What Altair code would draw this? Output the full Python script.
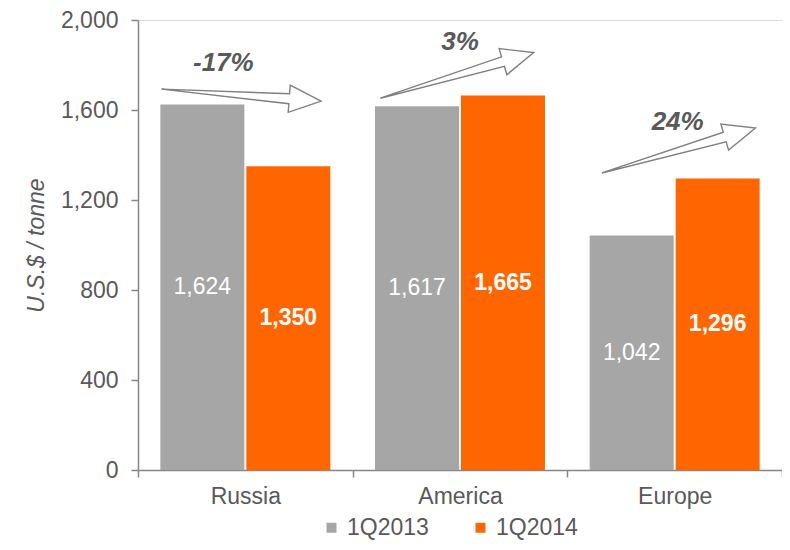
import altair as alt
import pandas as pd

# ---- data ----
regions = ["Russia", "America", "Europe"]
series = ["1Q2013", "1Q2014"]
values_2013 = [1624, 1617, 1042]
values_2014 = [1350, 1665, 1296]

# annotation: percentage change labels and arrows
pct_labels = ["-17%", "3%", "24%"]
pct_label_y = [1811, 1903, 1547]
arrow_y = [1666, 1754, 1420]
arrow_angle = [4.3, 343.4, 343.7]

GRAY = "#A6A6A6"
ORANGE = "#FF6600"
TEXT = "#595959"
AXIS = "#868686"
FONT = "Liberation Sans"

rows = []
for r, a, b in zip(regions, values_2013, values_2014):
    rows.append({"region": r, "series": series[0], "value": a})
    rows.append({"region": r, "series": series[1], "value": b})
df = pd.DataFrame(rows)

ann = pd.DataFrame({
    "region": regions,
    "label": pct_labels,
    "label_y": pct_label_y,
    "arrow_y": arrow_y,
    "angle": arrow_angle,
})

x_enc = alt.X(
    "region:N",
    sort=regions,
    title=None,
    scale=alt.Scale(paddingInner=0, paddingOuter=0),
    axis=alt.Axis(
        labelAngle=0, tickBand="extent", tickSize=7, labelPadding=8,
        labelFontSize=23, labelColor=TEXT, labelFont=FONT,
        domainColor=AXIS, tickColor=AXIS, domainWidth=1.5, tickWidth=1.5,
    ),
)
y_scale = alt.Scale(domain=[0, 2000], nice=False)

bars = alt.Chart(df).mark_bar().encode(
    x=x_enc,
    xOffset=alt.XOffset("series:N", sort=series,
                        scale=alt.Scale(paddingInner=0.023, paddingOuter=0.26)),
    y=alt.Y(
        "value:Q", scale=y_scale, title="U.S.$ / tonne",
        axis=alt.Axis(
            values=[0, 400, 800, 1200, 1600, 2000], format=",.0f", grid=False,
            tickSize=7, labelPadding=13, labelFontSize=23, labelColor=TEXT,
            labelFont=FONT, domainColor=AXIS, tickColor=AXIS,
            domainWidth=1.5, tickWidth=1.5,
            titleFont=FONT, titleFontSize=23, titleFontStyle="italic",
            titleFontWeight="normal", titleColor=TEXT, titlePadding=12,
        ),
    ),
    color=alt.Color(
        "series:N", sort=series,
        scale=alt.Scale(domain=series, range=[GRAY, ORANGE]),
        legend=alt.Legend(
            title=None, orient="none", direction="horizontal",
            legendX=182, legendY=496,
            symbolType="square", symbolSize=100, labelFontSize=23,
            labelColor=TEXT, labelFont=FONT, columnPadding=40, labelOffset=4,
            symbolStrokeWidth=0,
        ),
    ),
)

base_txt = alt.Chart(df).transform_calculate(mid="datum.value / 2").encode(
    x=alt.X("region:N", sort=regions),
    xOffset=alt.XOffset("series:N", sort=series),
    y=alt.Y("mid:Q", scale=y_scale),
    text=alt.Text("value:Q", format=","),
)
txt13 = base_txt.transform_filter(alt.datum.series == series[0]).mark_text(
    color="white", fontSize=23, font=FONT, baseline="middle")
txt14 = base_txt.transform_filter(alt.datum.series == series[1]).mark_text(
    color="white", fontSize=23, font=FONT, fontWeight="bold", baseline="middle")

ARROW = "M -1 0 L 0.6 -0.0625 L 0.6 -0.17 L 1 0 L 0.6 0.17 L 0.6 0.0625 Z"
arrow_dx = [-4, -3, 4]
label_dx = [-22, 0, 3]

layers = [bars, txt13, txt14]
for reg, adx, ldx in zip(regions, arrow_dx, label_dx):
    sub = alt.Chart(ann).transform_filter(alt.datum.region == reg)
    layers.append(
        sub.mark_point(shape=ARROW, filled=False, size=25600, stroke="#808080",
                       strokeWidth=1.4, opacity=1, xOffset=adx).encode(
            x=alt.X("region:N", sort=regions),
            y=alt.Y("arrow_y:Q", scale=y_scale),
            angle=alt.Angle("angle:Q", scale=None),
        )
    )
    layers.append(
        sub.mark_text(fontSize=26, font=FONT, fontWeight="bold", fontStyle="italic",
                      color=TEXT, dx=ldx, baseline="middle").encode(
            x=alt.X("region:N", sort=regions),
            y=alt.Y("label_y:Q", scale=y_scale),
            text="label:N",
        )
    )

chart = alt.layer(*layers).properties(
    width=644, height=450,
    padding={"left": 130, "top": 12, "right": 0, "bottom": 72},
    autosize=alt.AutoSizeParams(type="none"),
).configure_view(stroke=None).configure(font=FONT)

chart.save("out.html", embed_options={"renderer": "svg", "actions": False})
